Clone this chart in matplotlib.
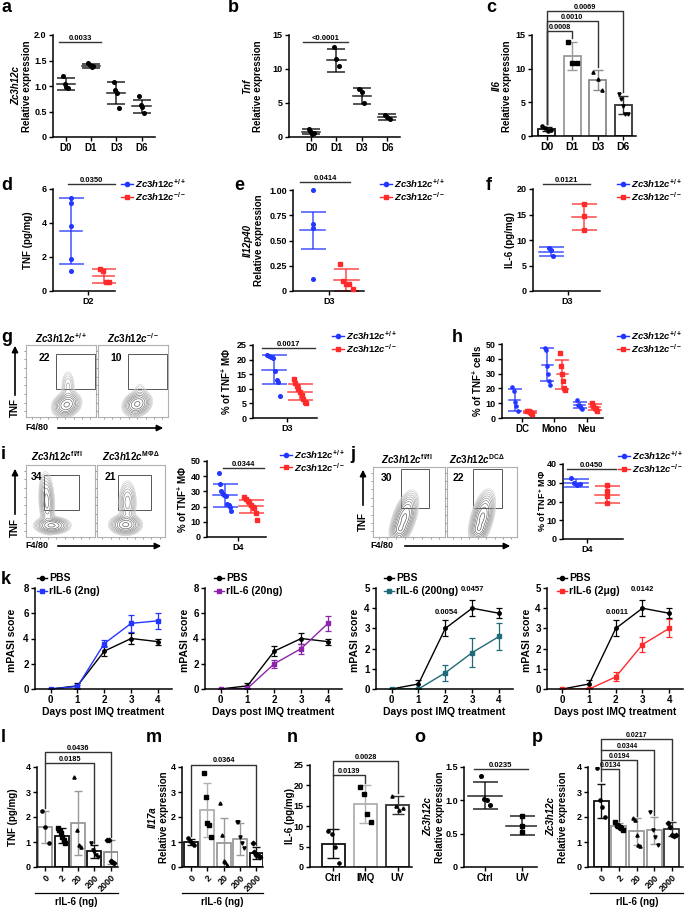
import numpy as np
import matplotlib
matplotlib.use('Agg')
import matplotlib.pyplot as plt
from matplotlib.lines import Line2D
from matplotlib.patches import FancyArrowPatch, Rectangle

plt.rcParams['font.family'] = ['Liberation Sans', 'DejaVu Sans']
plt.rcParams['font.weight'] = 'bold'
plt.rcParams['axes.labelweight'] = 'bold'
plt.rcParams['mathtext.fontset'] = 'custom'
plt.rcParams['mathtext.rm'] = 'Liberation Sans:bold'
plt.rcParams['mathtext.it'] = 'Liberation Sans:italic:bold'
plt.rcParams['mathtext.bf'] = 'Liberation Sans:bold'
plt.rcParams['mathtext.default'] = 'regular'
plt.rcParams['axes.linewidth'] = 1.1

# ---------------- data ----------------
days = ['D0', 'D1', 'D3', 'D6']
a_pts = [[1.2, 1.04, 0.98, 0.97], [1.45, 1.41, 1.38, 1.39], [1.07, 0.92, 0.87, 0.56], [0.8, 0.63, 0.58, 0.47]]
a_mean = [1.04, 1.40, 0.86, 0.60]
a_sd = [0.11, 0.04, 0.21, 0.135]

b_pts = [[1.2, 0.9, 0.5, 0.6], [13.2, 11.5, 10.4], [7.0, 6.6, 5.0], [3.3, 3.0, 2.7]]
b_mean = [0.8, 11.3, 6.0, 2.9]
b_sd = [0.4, 1.7, 1.15, 0.42]

c_pts = [[1.5, 1.2, 0.8, 0.9], [14.0, 10.8, 10.8], [9.5, 8.5, 6.8], [6.3, 5.5, 4.5, 3.3, 3.2]]
c_mean = [1.05, 11.9, 8.3, 4.6]
c_sd = [0.3, 2.1, 1.45, 1.4]

d_wt = [5.5, 5.2, 3.8, 1.9, 1.2]
d_ko = [1.3, 1.15, 0.55, 0.55]
d_mean = [3.52, 0.9]
d_sd = [1.93, 0.4]

e_wt = [1.0, 0.66, 0.62, 0.12]
e_ko = [0.27, 0.1, 0.07, 0.07, 0.02]
e_mean = [0.6, 0.11]
e_sd = [0.18, 0.11]

f_wt = [8.5, 8.0, 6.8]
f_ko = [17.0, 14.7, 12.0]
f_mean = [7.7, 14.5]
f_sd = [0.9, 2.5]

g_wt = [21.5, 21.2, 20.8, 20.5, 16, 13, 12.5, 7.5]
g_ko = [13.5, 12, 11, 10, 9, 8, 6.5, 5.5, 5]
g_mean = [16.5, 8.9]
g_sd = [5.0, 2.8]
g_gates = ['22', '10']

h_cells = ['DC', 'Mono', 'Neu']
h_wt = [[21, 18, 11, 8, 5], [47, 46, 35, 30, 25, 22], [12, 9, 8, 7, 6]]
h_ko = [[5, 4.5, 4, 3.5, 3], [44, 35, 30, 25, 20, 19], [10, 8, 7, 6, 5]]
h_wt_mean = [12, 36, 8.5]
h_wt_sd = [7.5, 11, 2]
h_ko_mean = [4, 29.5, 7.5]
h_ko_sd = [0.8, 10, 2]

i_wt = [42, 35, 30, 28, 27.5, 27, 22, 21, 20, 17]
i_ko = [26, 25, 24, 23, 21, 20, 19, 16, 11]
i_mean = [27.5, 20.2]
i_sd = [7.5, 4.2]
i_gates = ['34', '21']

j_wt = [32.5, 30, 29, 29.5]
j_ko = [29, 25.5, 23, 19]
j_mean = [30, 23.7]
j_sd = [2.2, 4.7]
j_gates = ['30', '22']

k_days = [0, 1, 2, 3, 4]
pbs_mean = [0, 0.25, 3.0, 4.0, 3.75]
pbs_sd = [0, 0.22, 0.4, 0.4, 0.25]
il6_labels = ['rIL-6 (2ng)', 'rIL-6 (20ng)', 'rIL-6 (200ng)', 'rIL-6 (2μg)']
il6_mean = [[0, 0.2, 3.6, 5.2, 5.4], [0, 0.05, 2.0, 3.2, 5.2], [0, 0, 0.8, 1.8, 2.6], [0, 0, 0.6, 2.2, 3.0]]
il6_sd = [[0, 0.1, 0.25, 0.65, 0.65], [0, 0, 0.3, 0.4, 0.6], [0, 0, 0.38, 0.72, 0.68], [0, 0, 0.22, 0.35, 0.45]]
il6_colors = ['#2236ff', '#8e24aa', '#1f6b78', '#ff2a2a']

doses = ['0', '2', '20', '200', '2000']
l_pts = [[2.25, 1.6, 0.97], [1.55, 1.5, 1.35, 1.2, 1.1, 0.95], [3.6, 1.5, 0.9, 0.8], [0.95, 0.7, 0.6, 0.5, 0.4], [1.1, 1.1, 0.25, 0.2, 0.15]]
l_mean = [1.6, 1.25, 1.77, 0.63, 0.62]
l_sd = [0.63, 0.3, 1.27, 0.25, 0.48]

m_pts = [[1.15, 1.05, 0.95, 0.9], [3.75, 2.8, 1.75, 1.7, 1.2], [2.55, 1.3, 0.25, 0.2, 0.1], [1.8, 1.8, 1.2, 0.95, 0.75], [0.95, 0.6, 0.5, 0.5, 0.45, 0.4]]
m_mean = [1.01, 2.28, 0.97, 1.12, 0.57]
m_sd = [0.11, 1.07, 1.0, 0.64, 0.25]

n_groups = ['Ctrl', 'IMQ', 'UV']
n_pts = [[8.8, 8.0, 5.0, 1.0], [19.5, 18.0, 13.0, 11.0], [17.5, 15.0, 14.0, 14.5]]
n_mean = [5.7, 15.4, 15.2]
n_sd = [3.5, 4.6, 2.2]

o_groups = ['Ctrl', 'UV']
o_pts = [[1.37, 1.02, 1.0, 0.93], [0.76, 0.62, 0.52]]
o_mean = [1.07, 0.62]
o_sd = [0.205, 0.145]

p_pts = [[3.95, 2.7, 2.4, 2.0], [1.8, 1.7, 1.65, 1.6, 1.55, 1.5], [1.95, 1.9, 1.3, 0.9, 0.85], [2.2, 1.5, 1.2, 0.9], [1.75, 1.6, 1.3, 1.25, 1.3]]
p_mean = [2.65, 1.65, 1.43, 1.47, 1.52]
p_sd = [0.69, 0.1, 0.53, 0.53, 0.27]

BLUE = '#2236ff'
RED = '#ff2a2a'
WT = r'$\mathit{Zc3h12c}^{+/+}$'
KO = r'$\mathit{Zc3h12c}^{-/-}$'

W, H = 685, 907
fig = plt.figure(figsize=(W / 100, H / 100), dpi=100)


def fx(x):
    return x / W


def fy(y):
    return 1 - y / H


def px_ax(x0, y0, x1, y1):
    ax = fig.add_axes([x0 / W, 1 - y1 / H, (x1 - x0) / W, (y1 - y0) / H])
    ax.spines[['top', 'right']].set_visible(False)
    ax.tick_params(length=3, width=1, labelsize=6.5, pad=1.5)
    return ax


def letter(x, y, s):
    fig.text(fx(x), fy(y), s, fontsize=13, ha='left', va='center')


def ylab(x, y, s, fs=7, italic=False):
    fig.text(fx(x), fy(y), s, fontsize=fs, rotation=90, ha='center', va='center',
             style='italic' if italic else 'normal')


def legend_px(x, y, labels, colors, markers, fs=6.8, L=12, step=12.5):
    for i, (lab, c, m) in enumerate(zip(labels, colors, markers)):
        yy = y + i * step
        fig.add_artist(Line2D([fx(x), fx(x + L)], [fy(yy), fy(yy)], color=c, lw=1,
                              transform=fig.transFigure))
        fig.add_artist(Line2D([fx(x + L / 2)], [fy(yy)], color=c, marker=m, ms=3,
                              transform=fig.transFigure))
        fig.text(fx(x + L + 2), fy(yy), lab, fontsize=fs, ha='left', va='center')


def dots(ax, x, pts, mean, sd, color, marker='o', spread=0.12, mw=0.32, cap=6, ms=2.6):
    n = len(pts)
    offs = np.linspace(-spread, spread, n) if n > 1 else np.zeros(1)
    ax.plot(x + offs, pts, ls='none', marker=marker, ms=ms, color=color, clip_on=False, zorder=3)
    ax.plot([x - mw, x + mw], [mean, mean], color=color, lw=1.1, alpha=0.85)
    ax.errorbar(x, mean, yerr=sd, color=color, capsize=cap, lw=1.1, capthick=1.1, alpha=0.85)


def sig(ax, x0, x1, h, txt, fs=5.5):
    ax.plot([x0, x1], [h, h], color='#333333', lw=1, clip_on=False)
    ax.text((x0 + x1) / 2, h, txt, ha='center', va='bottom', fontsize=fs, clip_on=False)


def bracket(ax, x0, x1, h, y0, y1, txt, fs=5.3):
    ax.plot([x0, x0, x1, x1], [y0, h, h, y1], color='#333333', lw=1, clip_on=False)
    ax.text((x0 + x1) / 2, h, txt, ha='center', va='bottom', fontsize=fs, clip_on=False)


def bars(ax, means, sds, pts, edges, width, markers, cap=3.5):
    xs = np.arange(len(means))
    ax.bar(xs, means, width=width, facecolor='white', edgecolor=edges, linewidth=1.3)
    for i in xs:
        ax.errorbar(i, means[i], yerr=sds[i], color=edges[i], capsize=cap, lw=1, capthick=1)
        n = len(pts[i])
        offs = np.linspace(-width * 0.25, width * 0.25, n)
        ax.plot(i + offs, pts[i], ls='none', marker=markers[i % len(markers)], ms=2.3, color='k', zorder=3)


def arrow(x0, y0, x1, y1):
    fig.add_artist(FancyArrowPatch((fx(x0), fy(y0)), (fx(x1), fy(y1)), transform=fig.transFigure,
                                   arrowstyle='-|>', mutation_scale=9, lw=1.2, color='k'))


def flow(x0, y0, x1, y1, blobs, gate, num, numpos):
    ax = fig.add_axes([x0 / W, 1 - y1 / H, (x1 - x0) / W, (y1 - y0) / H])
    for s in ax.spines.values():
        s.set_color('#b0b0b0')
        s.set_linewidth(0.8)
    gx, gy = np.meshgrid(np.linspace(0, 1, 200), np.linspace(0, 1, 200))
    z = np.zeros_like(gx)
    for cx, cy, sx, sy, ang, w in blobs:
        t = np.deg2rad(ang)
        u = (gx - cx) * np.cos(t) + (gy - cy) * np.sin(t)
        v = -(gx - cx) * np.sin(t) + (gy - cy) * np.cos(t)
        z += w * np.exp(-0.5 * ((u / sx) ** 2 + (v / sy) ** 2))
    levels = z.max() * np.geomspace(0.04, 0.9, 10)
    ax.contour(gx, gy, z, levels=levels, colors=plt.cm.Greys(np.linspace(0.28, 0.75, 10)), linewidths=0.45)
    ax.add_patch(Rectangle((gate[0], gate[1]), gate[2] - gate[0], gate[3] - gate[1], fill=False,
                           ec='#555555', lw=0.7, transform=ax.transAxes))
    ax.text(numpos[0], numpos[1], num, fontsize=7.5, ha='center', va='center', transform=ax.transAxes)
    ax.set_xlim(0, 1)
    ax.set_ylim(0, 1)
    ax.set_xticks(np.linspace(0.08, 0.92, 8))
    ax.set_yticks(np.linspace(0.08, 0.92, 8))
    ax.tick_params(length=1.5, width=0.6, colors='#888888', labelbottom=False, labelleft=False)
    return ax


# ---------------- a ----------------
letter(1, 8, 'a')
ax = px_ax(53, 35, 155, 137)
for i in range(4):
    dots(ax, i, a_pts[i], a_mean[i], a_sd[i], 'k', mw=0.36, cap=6.5, spread=0.1)
ax.set_xlim(-0.5, 3.53)
ax.set_ylim(0, 2.0)
ax.set_yticks([0, 0.5, 1.0, 1.5, 2.0])
ax.set_yticklabels(['0', '0.5', '1.0', '1.5', '2.0'])
ax.set_xticks(range(4))
ax.set_xticklabels(days, fontsize=7)
sig(ax, -0.27, 1.4, 1.87, '0.0033')
ylab(16, 86, 'Zc3h12c', italic=True)
ylab(27, 86, 'Relative expression')

# ---------------- b ----------------
letter(228, 8, 'b')
ax = px_ax(289, 35, 400, 137)
for i in range(4):
    dots(ax, i, b_pts[i], b_mean[i], b_sd[i], 'k', mw=0.36, cap=6.5, spread=0.1)
ax.set_xlim(-0.87, 3.5)
ax.set_ylim(0, 15)
ax.set_yticks([0, 5, 10, 15])
ax.set_xticks(range(4))
ax.set_xticklabels(days, fontsize=7)
sig(ax, -0.32, 1.44, 13.9, '<0.0001')
ylab(247, 86, 'Tnf', italic=True)
ylab(258, 86, 'Relative expression')

# ---------------- c ----------------
letter(486, 8, 'c')
ax = px_ax(532, 35, 636, 136)
bars(ax, c_mean, c_sd, c_pts, ['#111111', '#9a9a9a', '#8a8a8a', '#333333'], 0.68, ['o', 's', '^', 'v'])
ax.set_xlim(-0.58, 3.5)
ax.set_ylim(0, 15)
ax.set_yticks([0, 5, 10, 15])
ax.set_xticks(range(4))
ax.set_xticklabels(days, fontsize=7.5)
bracket(ax, 0, 1, 15.6, 1.8, 14.6, '0.0008')
bracket(ax, 0, 2, 17.1, 1.8, 10.3, '0.0010')
bracket(ax, 0, 3, 18.6, 1.8, 6.6, '0.0069')
ylab(497, 86, 'Il6', italic=True)
ylab(507, 86, 'Relative expression')

# ---------------- d ----------------
letter(1, 185, 'd')
ax = px_ax(53, 189, 115, 291)
dots(ax, -0.5, d_wt, d_mean[0], d_sd[0], BLUE, spread=0.0, mw=0.37, cap=9)
dots(ax, 0.6, d_ko, d_mean[1], d_sd[1], RED, marker='s', spread=0.15, mw=0.37, cap=9)
ax.set_xlim(-1.1, 0.95)
ax.set_ylim(0, 6)
ax.set_yticks([0, 2, 4, 6])
ax.set_xticks([0.05])
ax.set_xticklabels(['D2'])
sig(ax, -0.6, 0.95, 6.3, '0.0350')
ylab(28, 240, 'TNF (pg/mg)')
legend_px(121, 184, [WT, KO], [BLUE, RED], ['o', 's'])

# ---------------- e ----------------
letter(234, 185, 'e')
ax = px_ax(293, 190, 364, 291)
dots(ax, -0.45, e_wt, e_mean[0], e_sd[0], BLUE, spread=0.0, mw=0.35, cap=9)
dots(ax, 0.5, e_ko, e_mean[1], e_sd[1], RED, marker='s', spread=0.18, mw=0.35, cap=9)
ax.set_xlim(-1, 1)
ax.set_ylim(0, 1.0)
ax.set_yticks([0, 0.25, 0.5, 0.75, 1.0])
ax.set_yticklabels(['0', '0.25', '0.50', '0.75', '1.00'])
ax.set_xticks([0.02])
ax.set_xticklabels(['D3'])
sig(ax, -0.8, 0.6, 1.08, '0.0414')
ylab(248, 240, 'Il12p40', italic=True)
ylab(259, 240, 'Relative expression')
legend_px(380, 184, [WT, KO], [BLUE, RED], ['o', 's'])

# ---------------- f ----------------
letter(486, 185, 'f')
ax = px_ax(533, 189, 600, 291)
dots(ax, -0.46, f_wt, f_mean[0], f_sd[0], BLUE, spread=0.05, mw=0.35, cap=9)
dots(ax, 0.52, f_ko, f_mean[1], f_sd[1], RED, marker='s', spread=0.0, mw=0.35, cap=9)
ax.set_xlim(-1, 1)
ax.set_ylim(0, 20)
ax.set_yticks([0, 5, 10, 15, 20])
ax.set_xticks([0.03])
ax.set_xticklabels(['D3'])
sig(ax, -0.7, 0.7, 21, '0.0121')
ylab(510, 240, 'IL-6 (pg/mg)')
legend_px(617, 184, [WT, KO], [BLUE, RED], ['o', 's'])

# ---------------- g ----------------
letter(1, 338, 'g')
fig.text(fx(61), fy(338), WT, fontsize=7, ha='center', va='center')
fig.text(fx(133), fy(338), KO, fontsize=7, ha='center', va='center')
flow(26, 345, 96, 417, [(0.58, 0.17, 0.09, 0.07, 25, 1.0), (0.6, 0.42, 0.05, 0.12, 0, 0.18)],
     (0.43, 0.39, 0.99, 0.875), g_gates[0], (0.26, 0.82))
flow(98, 345, 168, 417, [(0.56, 0.18, 0.09, 0.07, 25, 1.0), (0.6, 0.36, 0.05, 0.08, 0, 0.08)],
     (0.43, 0.39, 0.99, 0.875), g_gates[1], (0.26, 0.82))
arrow(15, 398, 15, 343)
fig.text(fx(15), fy(408), 'TNF', fontsize=7, rotation=90, ha='center', va='center')
fig.text(fx(37), fy(428), 'F4/80', fontsize=6.5, ha='center', va='center')
arrow(55, 428, 166, 428)

ax = px_ax(253, 345, 317, 418)
dots(ax, -0.35, g_wt, g_mean[0], g_sd[0], BLUE, spread=0.2, mw=0.38, cap=9)
dots(ax, 0.47, g_ko, g_mean[1], g_sd[1], RED, marker='s', spread=0.2, mw=0.38, cap=9)
ax.set_xlim(-1, 1)
ax.set_ylim(0, 25)
ax.set_yticks([0, 5, 10, 15, 20, 25])
ax.set_xticks([0.06])
ax.set_xticklabels(['D3'])
sig(ax, -0.72, 0.94, 24, '0.0017')
ylab(226, 381, '% of TNF$^{+}$ MΦ', fs=7)
legend_px(332, 336, [WT, KO], [BLUE, RED], ['o', 's'])

# ---------------- h ----------------
letter(452, 337, 'h')
ax = px_ax(502, 344, 603, 418)
for i in range(3):
    dots(ax, i - 0.22, h_wt[i], h_wt_mean[i], h_wt_sd[i], BLUE, spread=0.08, mw=0.17, cap=5, ms=2.3)
    dots(ax, i + 0.24, h_ko[i], h_ko_mean[i], h_ko_sd[i], RED, marker='s', spread=0.08, mw=0.17, cap=5, ms=2.3)
ax.set_xlim(-0.62, 2.5)
ax.set_ylim(0, 50)
ax.set_yticks([0, 10, 20, 30, 40, 50])
ax.set_xticks(range(3))
ax.set_xticklabels(h_cells, fontsize=7)
ylab(477, 381, '% of TNF$^{+}$ cells', fs=7)
legend_px(617, 336, [WT, KO], [BLUE, RED], ['o', 's'])

# ---------------- i ----------------
letter(1, 455, 'i')
fig.text(fx(57), fy(456), r'$\mathit{Zc3h12c}^{fl/fl}$', fontsize=7, ha='center', va='center')
fig.text(fx(131), fy(456), r'$\mathit{Zc3h12c}^{MΦΔ}$', fontsize=7, ha='center', va='center')
flow(26, 465, 95, 537, [(0.38, 0.16, 0.11, 0.05, 0, 1.0), (0.3, 0.5, 0.05, 0.18, 3, 0.55)],
     (0.26, 0.375, 0.77, 0.86), i_gates[0], (0.15, 0.83))
flow(97, 465, 165, 537, [(0.42, 0.17, 0.1, 0.06, 0, 1.0), (0.45, 0.48, 0.06, 0.14, 0, 0.4)],
     (0.31, 0.375, 0.79, 0.86), i_gates[1], (0.19, 0.83))
arrow(15, 517, 15, 466)
fig.text(fx(15), fy(528), 'TNF', fontsize=7, rotation=90, ha='center', va='center')
fig.text(fx(37), fy(546), 'F4/80', fontsize=6.5, ha='center', va='center')
arrow(55, 546, 164, 546)

ax = px_ax(207, 461, 266, 537)
dots(ax, -0.39, i_wt, i_mean[0], i_sd[0], BLUE, spread=0.22, mw=0.4, cap=9)
dots(ax, 0.49, i_ko, i_mean[1], i_sd[1], RED, marker='s', spread=0.22, mw=0.4, cap=9)
ax.set_xlim(-1, 1)
ax.set_ylim(0, 50)
ax.set_yticks([0, 10, 20, 30, 40, 50])
ax.set_xticks([0.05])
ax.set_xticklabels(['D4'])
sig(ax, -0.46, 0.93, 45.4, '0.0344')
ylab(182, 499, '% of TNF$^{+}$ MΦ', fs=7)
legend_px(280, 455, [WT, KO], [BLUE, RED], ['o', 's'])

# ---------------- j ----------------
letter(350, 455, 'j')
fig.text(fx(407), fy(459), r'$\mathit{Zc3h12c}^{fl/fl}$', fontsize=7, ha='center', va='center')
fig.text(fx(477), fy(459), r'$\mathit{Zc3h12c}^{DCΔ}$', fontsize=7, ha='center', va='center')
flow(373, 467, 445, 537, [(0.43, 0.26, 0.065, 0.17, -18, 1.0), (0.37, 0.1, 0.05, 0.05, 0, 0.35)],
     (0.39, 0.41, 0.78, 0.97), j_gates[0], (0.19, 0.84))
flow(447, 467, 517, 537, [(0.5, 0.27, 0.065, 0.17, -15, 1.0), (0.45, 0.1, 0.05, 0.05, 0, 0.35)],
     (0.37, 0.41, 0.79, 0.97), j_gates[1], (0.16, 0.84))
arrow(363, 508, 363, 467)
fig.text(fx(363), fy(522), 'TNF', fontsize=7, rotation=90, ha='center', va='center')
fig.text(fx(382), fy(546), 'F4/80', fontsize=6.5, ha='center', va='center')
arrow(402, 546, 513, 546)

ax = px_ax(563, 464, 623, 539)
dots(ax, -0.57, j_wt, j_mean[0], j_sd[0], BLUE, spread=0.15, mw=0.4, cap=9)
dots(ax, 0.47, j_ko, j_mean[1], j_sd[1], RED, marker='s', spread=0.0, mw=0.4, cap=9)
ax.set_xlim(-1, 1)
ax.set_ylim(0, 40)
ax.set_yticks([0, 10, 20, 30, 40])
ax.set_xticks([-0.2])
ax.set_xticklabels(['D4'])
sig(ax, -0.87, 0.77, 37.3, '0.0450')
ylab(542, 501, '% of TNF$^{+}$ MΦ', fs=6.5)
legend_px(618, 456, [WT, KO], [BLUE, RED], ['o', 's'])

# ---------------- k ----------------
letter(1, 579, 'k')
k_boxes = [(35, 172), (205, 342), (376, 513), (547, 683)]
k_leg = [37, 214, 384, 557]
k_ylab = [12, 185, 355, 527]
for q in range(4):
    x0, x1 = k_boxes[q]
    ax = px_ax(x0, 588, x1, 689)
    ax.errorbar(k_days, pbs_mean, yerr=pbs_sd, color='k', marker='o', ms=2.5, lw=1, capsize=2.5,
                elinewidth=0.9, capthick=0.9)
    ax.errorbar(k_days, il6_mean[q], yerr=il6_sd[q], color=il6_colors[q], marker='s', ms=2.5, lw=1,
                capsize=2.5, elinewidth=0.9, capthick=0.9)
    ax.set_xlim(-0.58, 4.52)
    if q < 2:
        ax.set_ylim(0, 8)
        ax.set_yticks([0, 2, 4, 6, 8])
    else:
        ax.set_ylim(0, 5)
        ax.set_yticks([0, 1, 2, 3, 4, 5])
    ax.set_xticks(k_days)
    ax.tick_params(labelsize=7)
    ax.set_xlabel('Days post IMQ treatment', fontsize=7.5, labelpad=1)
    ylab(k_ylab[q], 640, 'mPASI score', fs=7.5)
    legend_px(k_leg[q], 578, ['PBS', il6_labels[q]], ['k', il6_colors[q]], ['o', 's'], fs=7.5, L=10)
    if q == 2:
        ax.text(2.05, 3.6, '0.0054', fontsize=5.5, ha='center', va='bottom')
        ax.text(3.0, 4.75, '0.0457', fontsize=5.5, ha='center', va='bottom', clip_on=False)
    if q == 3:
        ax.text(2.05, 3.6, '0.0011', fontsize=5.5, ha='center', va='bottom')
        ax.text(3.0, 4.75, '0.0142', fontsize=5.5, ha='center', va='bottom', clip_on=False)

# ---------------- l ----------------
letter(1, 737, 'l')
ax = px_ax(37, 767, 118, 867)
bars(ax, l_mean, l_sd, l_pts, ['#9a9a9a', '#111111', '#9a9a9a', '#111111', '#8a8a8a'], 0.85,
     ['o', 's', '^', 'v', 'D'], cap=3)
ax.set_xlim(-0.5, 4.45)
ax.set_ylim(0, 4)
ax.set_yticks([0, 1, 2, 3, 4])
ax.set_xticks(range(5))
ax.set_xticklabels(doses, rotation=45, ha='right', rotation_mode='anchor')
bracket(ax, 0, 3, 4.15, 2.35, 0.95, '0.0185')
bracket(ax, 0, 4, 4.6, 4.15, 1.2, '0.0436')
ylab(13, 817, 'TNF (pg/mg)')
fig.add_artist(Line2D([fx(35), fx(118)], [fy(893), fy(893)], color='k', lw=0.9, transform=fig.transFigure))
fig.text(fx(76), fy(902), 'rIL-6 (ng)', fontsize=7, ha='center', va='center')

# ---------------- m ----------------
letter(146, 737, 'm')
ax = px_ax(182, 767, 263, 867)
bars(ax, m_mean, m_sd, m_pts, ['#111111', '#b0b0b0', '#9a9a9a', '#9a9a9a', '#111111'], 0.85,
     ['o', 's', '^', 'v', 'D'], cap=3)
ax.set_xlim(-0.55, 4.4)
ax.set_ylim(0, 4)
ax.set_yticks([0, 1, 2, 3, 4])
ax.set_xticks(range(5))
ax.set_xticklabels(doses, rotation=45, ha='right', rotation_mode='anchor')
bracket(ax, 0, 4, 4.1, 1.25, 0.9, '0.0364')
ylab(153, 817, 'Il17a', italic=True)
ylab(164, 817, 'Relative expression')
fig.add_artist(Line2D([fx(182), fx(263)], [fy(893), fy(893)], color='k', lw=0.9, transform=fig.transFigure))
fig.text(fx(222), fy(902), 'rIL-6 (ng)', fontsize=7, ha='center', va='center')

# ---------------- n ----------------
letter(287, 737, 'n')
ax = px_ax(310, 765, 412, 867)
bars(ax, n_mean, n_sd, n_pts, ['#111111', '#b0b0b0', '#333333'], 0.7, ['o', 's', '^'], cap=4)
ax.set_xlim(-0.73, 2.45)
ax.set_ylim(0, 25)
ax.set_yticks([0, 5, 10, 15, 20, 25])
ax.set_xticks(range(3))
ax.set_xticklabels(n_groups, fontsize=7)
bracket(ax, 0, 1, 22.5, 9.6, 20.6, '0.0139')
bracket(ax, 0, 2, 26.0, 22.5, 18.2, '0.0028')
ylab(290, 816, 'IL-6 (pg/mg)')

# ---------------- o ----------------
letter(414, 737, 'o')
ax = px_ax(464, 767, 537, 867)
dots(ax, 0, o_pts[0], o_mean[0], o_sd[0], 'k', spread=0.12, mw=0.45, cap=9)
dots(ax, 1, o_pts[1], o_mean[1], o_sd[1], 'k', marker='s', spread=0.0, mw=0.45, cap=9)
ax.set_xlim(-0.57, 1.4)
ax.set_ylim(0, 1.5)
ax.set_yticks([0, 0.5, 1.0, 1.5])
ax.set_yticklabels(['0', '0.5', '1.0', '1.5'])
ax.set_xticks([0, 1])
ax.set_xticklabels(o_groups, fontsize=7)
sig(ax, -0.3, 1.15, 1.47, '0.0235')
ylab(428, 817, 'Zc3h12c', italic=True)
ylab(440, 817, 'Relative expression')

# ---------------- p ----------------
letter(532, 737, 'p')
ax = px_ax(588, 767, 683, 867)
bars(ax, p_mean, p_sd, p_pts, ['#111111', '#9a9a9a', '#9a9a9a', '#9a9a9a', '#333333'], 0.85,
     ['o', 's', '^', 'v', 'D'], cap=3)
ax.set_xlim(-0.75, 4.63)
ax.set_ylim(0, 4)
ax.set_yticks([0, 1, 2, 3, 4])
ax.set_xticks(range(5))
ax.set_xticklabels(doses, rotation=45, ha='right', rotation_mode='anchor')
bracket(ax, 0, 1, 3.92, 3.45, 1.85, '0.0134', fs=5)
bracket(ax, 0, 2, 4.3, 3.92, 2.05, '0.0194', fs=5)
bracket(ax, 0, 3, 4.7, 4.3, 2.1, '0.0344', fs=5)
bracket(ax, 0, 4, 5.12, 4.7, 1.9, '0.0217', fs=5)
ylab(551, 817, 'Zc3h12c', italic=True)
ylab(563, 817, 'Relative expression')
fig.add_artist(Line2D([fx(590), fx(683)], [fy(893), fy(893)], color='k', lw=0.9, transform=fig.transFigure))
fig.text(fx(637), fy(902), 'rIL-6 (ng)', fontsize=7, ha='center', va='center')

fig.savefig('out.png', dpi=100, facecolor='white')
